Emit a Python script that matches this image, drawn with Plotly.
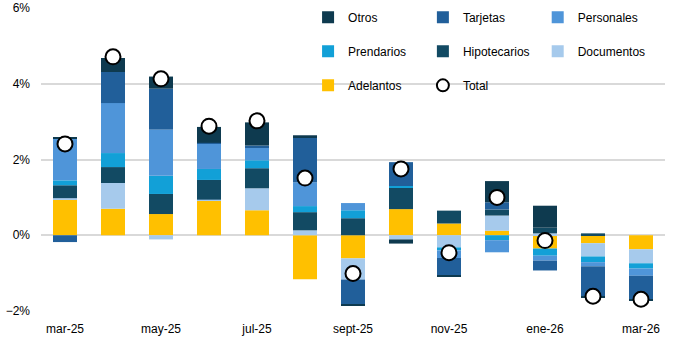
import plotly.graph_objects as go

categories = ['mar-25', 'abr-25', 'may-25', 'jun-25', 'jul-25', 'ago-25', 'sept-25',
              'oct-25', 'nov-25', 'dic-25', 'ene-26', 'feb-26', 'mar-26']
tick_labels = ['mar-25', 'may-25', 'jul-25', 'sept-25', 'nov-25', 'ene-26', 'mar-26']

adelantos = [0.95, 0.70, 0.56, 0.91, 0.66, -1.16, -0.61, 0.69, 0.31, 0.12, -0.35, -0.21, -0.37]
documentos = [0.03, 0.68, -0.11, 0.03, 0.58, 0.13, -0.56, -0.11, -0.32, 0.40, 0.05, -0.35, -0.37]
hipotecarios = [0.34, 0.42, 0.53, 0.52, 0.53, 0.48, 0.45, 0.56, 0.34, 0.16, 0.15, 0.05, 0.0]
prendarios = [0.13, 0.37, 0.48, 0.29, 0.21, 0.16, 0.21, 0.05, -0.08, -0.13, -0.19, -0.15, -0.14]
personales = [1.11, 1.32, 1.22, 0.66, 0.34, 0.63, 0.19, 0.0, -0.20, -0.32, -0.13, -0.11, -0.19]
tarjetas = [-0.18, 0.82, 1.08, 0.03, 0.05, 1.19, -0.65, 0.63, -0.45, 0.19, -0.26, -0.79, -0.63]
otros = [0.03, 0.37, 0.32, 0.42, 0.61, 0.05, -0.03, -0.11, -0.05, 0.56, 0.58, -0.04, -0.03]
total = [2.41, 4.71, 4.13, 2.88, 3.02, 1.51, -1.01, 1.75, -0.46, 1.00, -0.14, -1.61, -1.69]

# (name, values, color, legend column, rank within column)
series = [
    ('Adelantos', adelantos, '#FFC000', 'legend', 3),
    ('Documentos', documentos, '#A6CAEC', 'legend3', 2),
    ('Hipotecarios', hipotecarios, '#124A63', 'legend2', 2),
    ('Prendarios', prendarios, '#12A0D7', 'legend', 2),
    ('Personales', personales, '#4F95D9', 'legend3', 1),
    ('Tarjetas', tarjetas, '#215F9A', 'legend2', 1),
    ('Otros', otros, '#0E3A4F', 'legend', 1),
]

fig = go.Figure()
for name, vals, color, lg, rank in series:
    fig.add_trace(go.Bar(
        x=categories, y=vals, name=name,
        marker=dict(color=color, line=dict(width=0)),
        legend=lg, legendrank=rank, legendgroup=name,
    ))

fig.add_trace(go.Scatter(
    x=categories, y=total, name='Total', mode='markers',
    marker=dict(symbol='circle', size=15, color='white',
                line=dict(color='black', width=2)),
    legend='legend2', legendrank=3, legendgroup='Total',
))

font_family = 'Liberation Sans, Arial, sans-serif'
legend_common = dict(
    orientation='v', yanchor='top', y=1.017, xanchor='left',
    tracegroupgap=15, itemsizing='constant',
    bgcolor='rgba(0,0,0,0)', font=dict(size=12, color='#000000', family=font_family),
    itemclick=False, itemdoubleclick=False, traceorder='grouped',
)

fig.update_layout(
    width=680, height=340,
    margin=dict(l=41, r=15, t=8, b=29, autoexpand=False),
    paper_bgcolor='white', plot_bgcolor='white',
    barmode='relative', bargap=0.5,
    font=dict(family=font_family, size=12, color='#000000'),
    showlegend=True,
    legend=dict(legend_common, x=0.428),
    legend2=dict(legend_common, x=0.612),
    legend3=dict(legend_common, x=0.796),
    xaxis=dict(
        type='category', range=[-0.5, len(categories) - 0.5],
        tickmode='array', tickvals=tick_labels, ticktext=tick_labels,
        showgrid=False, showline=False, ticks='', ticklabelstandoff=9,
        tickfont=dict(size=12, color='#000000'),
        automargin=False,
    ),
    yaxis=dict(
        range=[-2, 6], dtick=2, tick0=0, ticksuffix='%',
        showgrid=True, gridcolor='#D9D9D9', gridwidth=2,
        zeroline=True, zerolinecolor='#D9D9D9', zerolinewidth=2,
        showline=False, ticks='', ticklabelstandoff=10,
        tickfont=dict(size=12, color='#000000'),
        automargin=False,
    ),
)

fig.write_html('out.html')
